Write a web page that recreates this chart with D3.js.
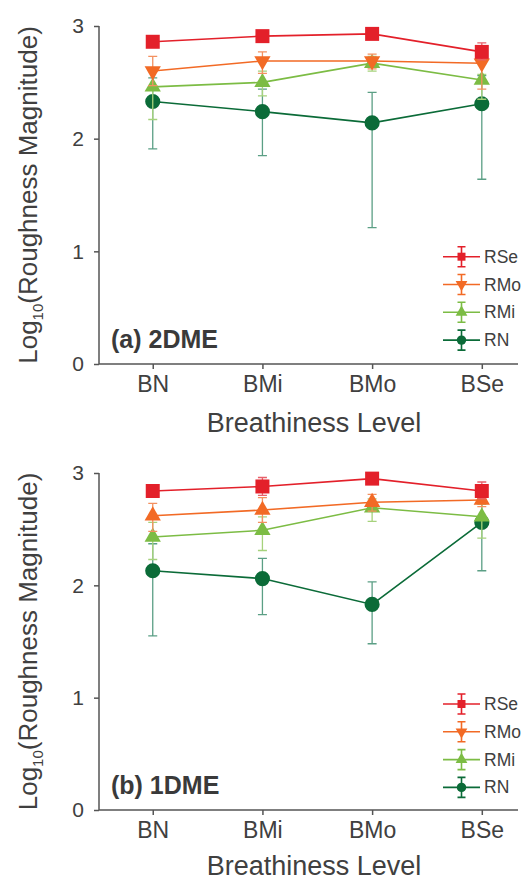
<!DOCTYPE html>
<html>
<head>
<meta charset="utf-8">
<script src="https://cdnjs.cloudflare.com/ajax/libs/d3/7.8.5/d3.min.js"></script>
<style>
  body { margin: 0; background: #fff; }
  text { font-family: "Liberation Sans", Arial, sans-serif; fill: #404040; }
  .axis path, .axis line { stroke: #555; stroke-width: 1.5; }
</style>
</head>
<body>
<div id="chart"></div>
<script>
// categories and series
var categories = ["BN", "BMi", "BMo", "BSe"];
var seriesNames = ["RSe", "RMo", "RMi", "RN"];
var yTicks = [0, 1, 2, 3];

// panel (a) 2DME, rows follow seriesNames
var mean2DME = [
    [2.86, 2.91, 2.93, 2.77],
    [2.60, 2.69, 2.69, 2.67],
    [2.46, 2.50, 2.67, 2.52],
    [2.33, 2.24, 2.14, 2.31]
];
var lo2DME = [
    [2.84, 2.88, 2.90, 2.70],
    [2.47, 2.58, 2.62, 2.44],
    [2.17, 2.38, 2.60, 2.35],
    [1.91, 1.85, 1.21, 1.64]
];
var hi2DME = [
    [2.88, 2.94, 2.96, 2.85],
    [2.73, 2.77, 2.75, 2.78],
    [2.63, 2.60, 2.73, 2.57],
    [2.54, 2.44, 2.41, 2.56]
];

// panel (b) 1DME
var mean1DME = [
    [2.84, 2.88, 2.95, 2.84],
    [2.62, 2.67, 2.74, 2.76],
    [2.43, 2.49, 2.69, 2.61],
    [2.13, 2.06, 1.83, 2.56]
];
var lo1DME = [
    [2.81, 2.80, 2.92, 2.77],
    [2.48, 2.56, 2.66, 2.70],
    [2.23, 2.31, 2.57, 2.42],
    [1.55, 1.74, 1.48, 2.13]
];
var hi1DME = [
    [2.87, 2.96, 2.98, 2.92],
    [2.73, 2.78, 2.81, 2.82],
    [2.56, 2.61, 2.77, 2.72],
    [2.37, 2.24, 2.03, 2.75]
];

var lineColors = ["#e3202a", "#f26a25", "#7cbc44", "#0b6b38"];
var barColors = ["#e8606a", "#f39160", "#a6d27c", "#5b9f85"];

var W = 530, H = 882;
var svg = d3.select("#chart").append("svg")
    .attr("width", W)
    .attr("height", H);

var x = d3.scaleLinear()
    .domain([-0.49, 3.33])
    .range([99, 518]);

function symbolFor(i) {
    if (i == 0) return d3.symbol().type(d3.symbolSquare).size(196);
    if (i == 3) return d3.symbol().type(d3.symbolCircle).size(180);
    return d3.symbol().type(d3.symbolTriangle).size(115);
}

function drawPanel(top, bottom, means, los, his, label, rmoUp, legendY, titleY) {
    var y = d3.scaleLinear().domain([0, 3]).range([bottom, top]);
    var g = svg.append("g");

    g.append("g")
        .attr("class", "axis")
        .attr("transform", "translate(99,0)")
        .call(d3.axisLeft(y).tickValues(yTicks).tickFormat(d3.format("d"))
            .tickSize(5).tickPadding(10).tickSizeOuter(0))
        .selectAll("text")
        .style("font-size", "21px");

    g.append("g")
        .attr("class", "axis")
        .attr("transform", "translate(0," + bottom + ")")
        .call(d3.axisBottom(x).tickValues([0, 1, 2, 3]).tickSize(5).tickPadding(7).tickSizeOuter(0)
            .tickFormat(function(d) { return categories[d]; }))
        .selectAll("text")
        .style("font-size", "23px");

    g.selectAll(".axis path").attr("d", null);
    g.append("path")
        .attr("d", "M99," + top + "V" + bottom + "H518")
        .attr("fill", "none")
        .attr("stroke", "#555")
        .attr("stroke-width", 1.5);

    g.append("text")
        .attr("x", 314)
        .attr("y", titleY)
        .attr("text-anchor", "middle")
        .style("font-size", "27px")
        .text("Breathiness Level");

    var yt = g.append("text")
        .attr("transform", "translate(37," + ((top + bottom) / 2) + ") rotate(-90)")
        .attr("text-anchor", "middle")
        .style("font-size", "26px");
    yt.append("tspan").text("Log");
    yt.append("tspan").attr("dy", 6).style("font-size", "15px").text("10");
    yt.append("tspan").attr("dy", -6).text("(Roughness Magnitude)");

    g.append("text")
        .attr("x", 111)
        .attr("y", bottom - 16)
        .style("font-size", "25px")
        .style("font-weight", "bold")
        .style("fill", "#3a3a3a")
        .text(label);

    var line = d3.line()
        .x(function(d, j) { return x(j); })
        .y(function(d) { return y(d); });

    // draw RN first so RSe sits on top
    for (var i = seriesNames.length - 1; i >= 0; i--) {
        var s = g.append("g");
        var pts = means[i].map(function(m, j) { return { j: j, m: m, lo: los[i][j], hi: his[i][j] }; });

        s.selectAll(".err")
            .data(pts)
            .enter()
            .append("path")
            .attr("d", function(d) {
                var cx = x(d.j);
                return "M" + cx + "," + y(d.lo) + "V" + y(d.hi) +
                    "M" + (cx - 4.5) + "," + y(d.lo) + "H" + (cx + 4.5) +
                    "M" + (cx - 4.5) + "," + y(d.hi) + "H" + (cx + 4.5);
            })
            .attr("fill", "none")
            .attr("stroke", barColors[i])
            .attr("stroke-width", 1.3);

        s.append("path")
            .datum(means[i])
            .attr("d", line)
            .attr("fill", "none")
            .attr("stroke", lineColors[i])
            .attr("stroke-width", 1.6);

        var rot = (i == 1 && !rmoUp) ? 180 : 0;
        s.selectAll(".mk")
            .data(pts)
            .enter()
            .append("path")
            .attr("d", symbolFor(i))
            .attr("transform", function(d) {
                return "translate(" + x(d.j) + "," + y(d.m) + ") rotate(" + rot + ")";
            })
            .attr("fill", lineColors[i]);
    }

    // legend
    var lg = g.append("g");
    seriesNames.forEach(function(name, i) {
        var ly = legendY + i * 27.8;
        var it = lg.append("g").attr("transform", "translate(461.5," + ly + ")");
        it.append("path")
            .attr("d", "M-18.5,0H18.5")
            .attr("stroke", lineColors[i])
            .attr("stroke-width", 1.6);
        it.append("path")
            .attr("d", "M0,-10V10M-4,-10H4M-4,10H4")
            .attr("fill", "none")
            .attr("stroke", lineColors[i])
            .attr("stroke-width", 1.6);
        var sz = [64, 60, 60, 70][i];
        var type = [d3.symbolSquare, d3.symbolTriangle, d3.symbolTriangle, d3.symbolCircle][i];
        it.append("path")
            .attr("d", d3.symbol().type(type).size(sz))
            .attr("transform", i == 1 ? "rotate(180)" : null)
            .attr("fill", lineColors[i]);
        it.append("text")
            .attr("x", 22.5)
            .attr("y", 6)
            .style("font-size", "17.5px")
            .text(name);
    });
}

drawPanel(26, 364, mean2DME, lo2DME, hi2DME, "(a) 2DME", false, 256.7, 432);
drawPanel(473, 810, mean1DME, lo1DME, hi1DME, "(b) 1DME", true, 704, 875);
</script>
</body>
</html>
